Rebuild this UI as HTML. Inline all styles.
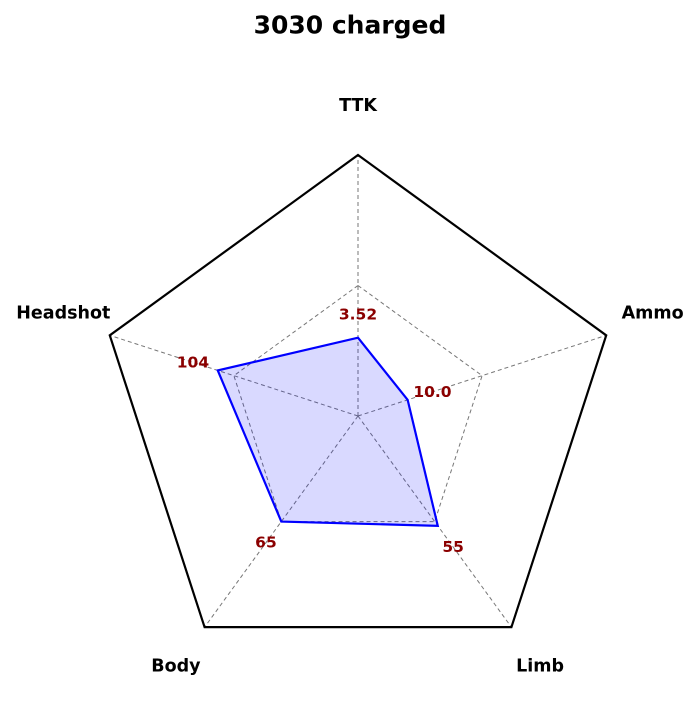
<!DOCTYPE html>
<html><head><meta charset="utf-8"><style>
html,body{margin:0;padding:0;background:#fff;}
svg text{font-family:"DejaVu Sans","Liberation Sans",sans-serif;font-weight:bold;}
</style></head><body>
<svg id="chart" width="700" height="700" viewBox="0 0 700 700" xmlns="http://www.w3.org/2000/svg">
<text x="350" y="25" text-anchor="middle" dominant-baseline="central" font-size="25">3030 charged</text>
</svg>
<script>
const categories = ["TTK","Ammo","Limb","Body","Headshot"];
const values = [0.30, 0.20, 0.52, 0.50, 0.565];
const valueLabels = ["3.52","10.0","55","65","104"];
const gridLevels = [0.5, 1.0];

const svg = document.getElementById('chart');
const NS = "http://www.w3.org/2000/svg";
const cx = 358, cy = 416, R = 261;
function ang(i){ return -Math.PI/2 + i*2*Math.PI/categories.length; }
function pt(i, r){ return [cx + R*r*Math.cos(ang(i)), cy + R*r*Math.sin(ang(i))]; }
function mk(tag, attrs){ const e=document.createElementNS(NS,tag); for(const k in attrs) e.setAttribute(k,attrs[k]); svg.appendChild(e); return e; }

categories.forEach((c,i)=>{
  const [x,y]=pt(i,1);
  const l=mk('line',{x1:cx,y1:cy,x2:x,y2:y,stroke:'#777','stroke-width':1,'stroke-dasharray':'4,3'});
  
  
});
gridLevels.forEach(g=>{
  const p=categories.map((c,i)=>pt(i,g).join(',')).join(' ');
  const e=mk('polygon',{points:p,fill:'none',stroke:g===1?'#000':'#777','stroke-width':g===1?2.2:1,'stroke-dasharray':g===1?'none':'4,3'});
  
  
});
const dp=values.map((v,i)=>pt(i,v).join(',')).join(' ');
const poly=mk('polygon',{points:dp,fill:'rgba(0,0,255,0.15)',stroke:'#0000ff','stroke-width':2.2});


values.forEach((v,i)=>{
  const [x,y]=pt(i,v+0.1);
  const dy = i===0 ? 3 : 0;
  const t=mk('text',{x:x,y:y+dy,'text-anchor':'middle','dominant-baseline':'central','font-size':15.5,fill:'#8b0000'});
  t.textContent=valueLabels[i];
  
  
});
categories.forEach((c,i)=>{
  const [x,y]=pt(i,1.187);
  const dy=(i===1||i===4)?-7:0;
  const t=mk('text',{x:x,y:y+dy,'text-anchor':'middle','dominant-baseline':'central','font-size':17.5,fill:'#000'});
  t.textContent=c;
  
  
});
</script>
</body></html>
